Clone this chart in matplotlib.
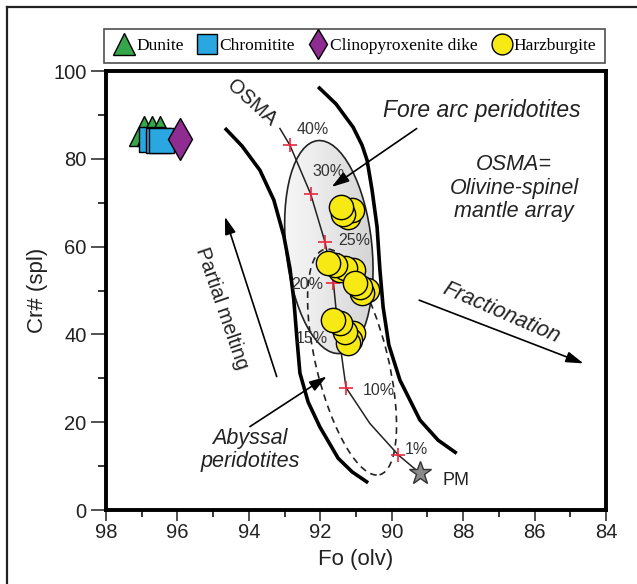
import matplotlib.pyplot as plt
import matplotlib.transforms as mtransforms
from matplotlib.patches import Ellipse
from matplotlib.lines import Line2D
import numpy as np

plt.rcParams['font.family'] = ['Liberation Sans', 'DejaVu Sans']

# sample data: Fo (olivine) and Cr# (spinel)
dunite_fo = [96.94, 96.71, 96.49]
dunite_cr = [86.4, 86.4, 86.4]
chromitite_fo = [96.74, 96.54, 96.46]
chromitite_cr = [84.6, 84.3, 84.2]
cpx_fo = [95.93]
cpx_cr = [84.5]
harz_fo = [91.21, 91.12, 91.36, 91.42,
           90.69, 90.83, 90.89, 91.08, 91.45, 91.31, 91.59, 91.78, 91.03,
           91.08, 91.17, 91.22, 91.31, 91.45, 91.64]
harz_cr = [66.7, 68.3, 67.4, 69.1,
           50.1, 49.4, 50.8, 54.7, 54.7, 55.1, 55.8, 56.3, 51.7,
           40.3, 38.7, 38.0, 40.5, 42.6, 43.3]

# OSMA band borders and melting trend
left_fo = [94.67, 94.19, 93.69, 93.30, 93.02, 92.85, 92.74, 92.65, 92.57, 92.34, 92.01, 91.50, 91.11, 90.66]
left_cr = [87.0, 82.9, 77.4, 70.6, 62.4, 55.1, 47.8, 38.7, 31.2, 24.6, 18.9, 11.8, 8.7, 6.2]
right_fo = [92.06, 91.56, 91.08, 90.83, 90.69, 90.55, 90.41, 90.33, 90.24, 90.08, 89.77, 89.21, 88.70, 88.18]
right_cr = [96.4, 92.5, 87.2, 83.1, 79.7, 72.9, 64.5, 54.7, 46.2, 37.6, 29.6, 20.5, 15.9, 12.9]
melt_fo = [93.13, 92.85, 92.27, 91.87, 91.63, 91.50, 91.28, 90.61, 89.81, 89.21]
melt_cr = [86.9, 83.1, 72.0, 61.1, 51.6, 41.0, 27.9, 19.7, 12.5, 8.4]
cross_fo = [92.85, 92.27, 91.87, 91.63, 91.28, 89.81]
cross_cr = [83.1, 72.0, 61.1, 51.6, 27.9, 12.5]
pct_labels = ['40%', '30%', '25%', '20%', '15%', '10%', '1%']
pct_fo = [92.66, 92.22, 91.49, 92.80, 92.70, 90.80, 89.63]
pct_cr = [86.6, 77.1, 61.3, 51.3, 39.1, 27.3, 13.7]
pm_fo, pm_cr = 89.21, 8.4

# fields (centre in data units)
forearc_center = (91.76, 59.9)
abyssal_center = (91.11, 33.7)

fig = plt.figure(figsize=(6.37, 5.84), dpi=100)
ax = fig.add_axes([0.1664, 0.1267, 0.7849, 0.7517])

# figure frame (only top and left visible)
fig.add_artist(Line2D([7/637, 7/637], [0, 1 - 7/584], transform=fig.transFigure, color='#222', lw=1.6))
fig.add_artist(Line2D([7/637, 1], [1 - 7/584, 1 - 7/584], transform=fig.transFigure, color='#222', lw=1.6))

# fore arc field with gray gradient
t_fa = fig.dpi_scale_trans + mtransforms.ScaledTranslation(*forearc_center, ax.transData)
fa = Ellipse((0, 0), width=0.86, height=2.14, angle=6, transform=t_fa,
             facecolor='none', edgecolor='#222', lw=1.2, zorder=3)
ax.add_patch(fa)
grad = np.linspace(0.07, 0.3, 256).reshape(1, -1)
im = ax.imshow(grad, cmap='Greys', vmin=0, vmax=1, extent=(93.1, 90.2, 34, 88),
               aspect='auto', zorder=2, interpolation='bilinear')
im.set_clip_path(fa)

# abyssal field
t_ab = fig.dpi_scale_trans + mtransforms.ScaledTranslation(*abyssal_center, ax.transData)
ax.add_patch(Ellipse((0, 0), width=0.72, height=2.32, angle=13.7, transform=t_ab,
                     facecolor='none', edgecolor='#222', lw=1.2, ls=(0, (4, 3)), zorder=3))

# OSMA band
ax.plot(left_fo, left_cr, color='black', lw=2.6, solid_capstyle='butt', zorder=4)
ax.plot(right_fo, right_cr, color='black', lw=2.6, solid_capstyle='butt', zorder=4)
ax.plot(melt_fo, melt_cr, color='#222', lw=1.1, zorder=4)
ax.plot(cross_fo, cross_cr, ls='none', marker='+', ms=10, mew=1.2, color='#e8283c', zorder=5)
for lab, x, y in zip(pct_labels, pct_fo, pct_cr):
    ax.text(x, y, lab, fontsize=11.5, color='#333', ha='left', va='center', zorder=5)

ax.plot([pm_fo], [pm_cr], ls='none', marker='*', ms=17, mfc='#8a8a8a', mec='#333', mew=1.0, zorder=6)
ax.text(88.57, 6.8, 'PM', fontsize=13, color='#222', ha='left', va='center')

# samples
ax.plot(dunite_fo, dunite_cr, ls='none', marker='^', ms=21, mfc='#35a64a', mec='black', mew=1.0, zorder=6)
ax.plot(chromitite_fo, chromitite_cr, ls='none', marker='s', ms=18, mfc='#2aa6e0', mec='black', mew=1.0, zorder=7)
ax.plot(cpx_fo, cpx_cr, ls='none', marker='d', ms=21, mfc='#8e2c92', mec='black', mew=1.0, zorder=8)
ax.plot(harz_fo, harz_cr, ls='none', marker='o', ms=17.5, mfc='#f7ea14', mec='black', mew=1.0, zorder=6)

# arrows and annotations
arrow = dict(arrowstyle='-|>,head_length=0.7,head_width=0.22', color='black', lw=1.2,
             shrinkA=0, shrinkB=0, mutation_scale=15)
ax.annotate('', xy=(91.68, 73.6), xytext=(89.30, 86.9), arrowprops=arrow, zorder=9)
ax.annotate('', xy=(94.67, 66.8), xytext=(93.22, 30.4), arrowprops=arrow)
ax.annotate('', xy=(84.63, 33.4), xytext=(89.23, 47.8), arrowprops=arrow)
ax.annotate('', xy=(91.82, 30.4), xytext=(93.97, 19.0), arrowprops=arrow, zorder=9)

ax.text(87.48, 90.9, 'Fore arc peridotites', fontsize=16.5, style='italic', color='#222',
        ha='center', va='center')
ax.text(86.57, 73.3, 'OSMA=\nOlivine-spinel\nmantle array', fontsize=15.5, style='italic',
        color='#222', ha='center', va='center', linespacing=1.15)
ax.text(93.92, 92.8, 'OSMA', fontsize=14.5, color='#222', rotation=-42,
        ha='center', va='center', rotation_mode='anchor')
ax.text(94.75, 46.0, 'Partial melting', fontsize=14.5, color='#222', rotation=-71,
        ha='center', va='center', rotation_mode='anchor')
ax.text(86.92, 44.8, 'Fractionation', fontsize=15.7, style='italic', color='#222', rotation=-23.4,
        ha='center', va='center', rotation_mode='anchor')
ax.text(93.97, 13.7, 'Abyssal\nperidotites', fontsize=15.5, style='italic', color='#222',
        ha='center', va='center', linespacing=1.1)

# axes styling
ax.set_xlim(98, 84)
ax.set_ylim(0, 100)
ax.set_xticks(np.arange(98, 83, -2))
ax.set_xticks(np.arange(97, 84, -2), minor=True)
ax.set_yticks(np.arange(0, 101, 20))
ax.set_yticks(np.arange(10, 100, 20), minor=True)
ax.tick_params(axis='x', which='major', length=8, width=1.1, pad=1.5, labelsize=14.5, colors='#222')
ax.tick_params(axis='x', which='minor', length=5, width=1.1)
ax.tick_params(axis='y', which='major', length=11, width=1.1, pad=3, labelsize=14.5, colors='#222')
ax.tick_params(axis='y', which='minor', length=6, width=1.1)
for s in ax.spines.values():
    s.set_linewidth(2.8)
ax.set_xlabel('Fo (olv)', fontsize=16, color='#222', labelpad=5)
ax.set_ylabel('Cr# (spl)', fontsize=16, color='#222', labelpad=4)

handles = [
    Line2D([], [], ls='none', marker='^', ms=16, mfc='#35a64a', mec='black', label='Dunite'),
    Line2D([], [], ls='none', marker='s', ms=14, mfc='#2aa6e0', mec='black', label='Chromitite'),
    Line2D([], [], ls='none', marker='d', ms=15, mfc='#8e2c92', mec='black', label='Clinopyroxenite dike'),
    Line2D([], [], ls='none', marker='o', ms=15, mfc='#f7ea14', mec='black', label='Harzburgite'),
]
leg = fig.legend(handles=handles, ncol=4, loc='center', mode='expand',
                 bbox_to_anchor=(104/637, 1 - 66/584, 501/637, 40/584),
                 frameon=True, fancybox=False, edgecolor='#222',
                 prop={'family': 'Liberation Serif', 'size': 12.5},
                 handletextpad=0.05, columnspacing=0.5, handlelength=1.3, borderpad=0.5,
                 borderaxespad=0)
leg.get_frame().set_linewidth(1.2)

plt.savefig('out.png', dpi=100)
